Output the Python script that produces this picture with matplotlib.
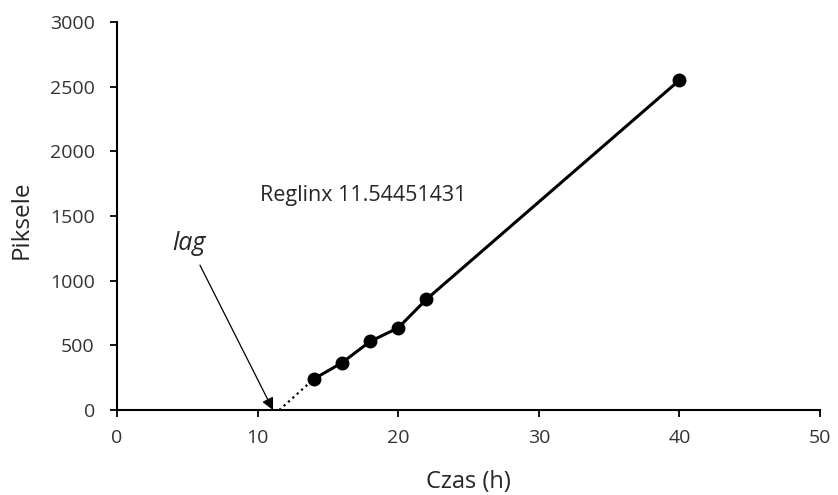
import matplotlib.pyplot as plt

# data
czas = [14, 16, 18, 20, 22, 40]
piksele = [240, 365, 530, 635, 855, 2550]
lag_x = 11.54451431
x_ticks = [0, 10, 20, 30, 40, 50]
y_ticks = [0, 500, 1000, 1500, 2000, 2500, 3000]

plt.rcParams['font.family'] = ['Open Sans', 'DejaVu Sans']

fig = plt.figure(figsize=(8.38, 4.95), dpi=100)
ax = fig.add_axes([0.1396, 0.1717, 0.8389, 0.7839])

# dotted extrapolation to lag point
ax.plot([lag_x, czas[0]], [0, piksele[0]], color='black', linestyle=':', linewidth=1.6)
ax.plot(czas, piksele, color='black', linewidth=2.2, marker='o', markersize=9)

ax.annotate('', xy=(11.1, 0), xytext=(5.9, 1120),
            arrowprops=dict(arrowstyle='-|>', color='black', lw=0.9,
                            mutation_scale=18, shrinkA=0, shrinkB=0))
ax.text(5.1, 1290, 'lag', fontsize=18, style='italic', ha='center', va='center',
        color='#262626')
ax.text(10.2, 1660, 'Reglinx ' + str(lag_x), fontsize=15.5, ha='left', va='center',
        color='#262626')

ax.set_xlim(0, 50)
ax.set_ylim(0, 3000)
ax.set_xticks(x_ticks)
ax.set_yticks(y_ticks)
ax.tick_params(labelsize=14, colors='#333333', length=5, width=1.3)
ax.tick_params(axis='y', pad=11)
ax.tick_params(axis='x', pad=9)
ax.tick_params(color='black')
ax.spines['top'].set_visible(False)
ax.spines['right'].set_visible(False)
ax.spines['left'].set_linewidth(1.5)
ax.spines['bottom'].set_linewidth(1.5)
ax.set_xlabel('Czas (h)', fontsize=17, color='#262626')
ax.set_ylabel('Piksele', fontsize=17.5, color='#262626')
ax.xaxis.set_label_coords(0.5, -0.186)
ax.yaxis.set_label_coords(-0.136, 0.49)
ax.xaxis.label.set_va('center')
ax.yaxis.label.set_va('center')

plt.savefig('out.png', dpi=100)
